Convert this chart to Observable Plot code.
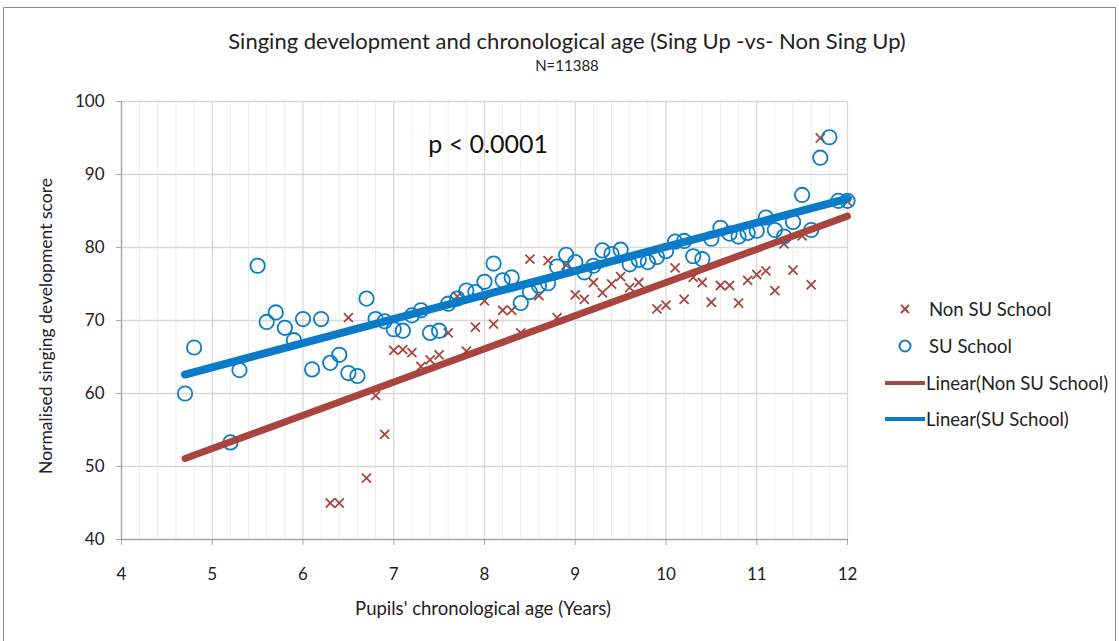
<!DOCTYPE html>
<html>
<head>
<meta charset="utf-8">
<script src="https://cdn.jsdelivr.net/npm/d3@7"></script>
<script src="https://cdn.jsdelivr.net/npm/@observablehq/plot@0.6"></script>
<style>
  html, body { margin: 0; padding: 0; background: #fff; }
  #wrap { position: relative; width: 1119px; height: 641px; overflow: hidden; font-family: Lato, "Open Sans", sans-serif; color: #222; }
  #frame { position: absolute; left: 3px; top: 7px; width: 1113px; height: 660px; border: 1px solid #8c8c8c; box-sizing: border-box; }
  .t { position: absolute; white-space: nowrap; }
  #legend .row { position: absolute; left: 880px; height: 22px; display: flex; align-items: center; font-size: 18.5px; }
</style>
</head>
<body>
<div id="wrap">
  <div id="frame"></div>
  <div id="chart" style="position:absolute;left:0;top:0;"></div>
  <div class="t" id="title" style="left:0;width:1134px;text-align:center;top:27px;font-size:22px;">Singing development and chronological age (Sing Up -vs- Non Sing Up)</div>
  <div class="t" id="sub" style="left:0;width:1134px;text-align:center;top:56px;font-size:15px;">N=11388</div>
  <div class="t" id="xlab" style="left:0;width:966px;text-align:center;top:597px;font-size:18.5px;">Pupils' chronological age (Years)</div>
  <div class="t" id="ylab" style="left:45px;top:326px;font-size:17.5px;transform:translate(-50%,-50%) rotate(-90deg);">Normalised singing development score</div>
  <div id="legend"></div>
</div>
<script>
// ---- data ----
const suAge = [4.7,4.8,5.2,5.3,5.5,5.6,5.7,5.8,5.9,6.0,6.1,6.2,6.3,6.4,6.5,6.6,6.7,6.8,6.9,7.0,7.1,7.2,7.3,7.4,7.5,7.6,7.7,7.8,7.9,8.0,8.1,8.2,8.3,8.4,8.5,8.6,8.7,8.8,8.9,9.0,9.1,9.2,9.3,9.4,9.5,9.6,9.7,9.8,9.9,10.0,10.1,10.2,10.3,10.4,10.5,10.6,10.7,10.8,10.9,11.0,11.1,11.2,11.3,11.4,11.5,11.6,11.7,11.8,11.9,12.0];
const suScore = [60.0,66.3,53.3,63.2,77.5,69.8,71.1,69.0,67.3,70.2,63.3,70.2,64.2,65.3,62.8,62.4,73.0,70.2,69.9,68.8,68.6,70.7,71.4,68.3,68.6,72.3,73.0,74.1,73.9,75.3,77.8,75.5,75.9,72.4,73.9,74.8,75.1,77.4,79.0,78.0,76.6,77.5,79.6,79.1,79.7,77.7,78.3,78.0,78.7,79.5,80.8,80.9,78.8,78.4,81.2,82.7,81.9,81.5,82.0,82.3,84.1,82.4,81.5,83.5,87.2,82.4,92.3,95.1,86.4,86.4];
const nonSuAge = [6.3,6.4,6.5,6.7,6.8,6.9,7.0,7.1,7.2,7.3,7.4,7.5,7.6,7.7,7.8,7.9,8.0,8.1,8.2,8.3,8.4,8.5,8.6,8.7,8.8,8.9,9.0,9.1,9.2,9.3,9.4,9.5,9.6,9.7,9.9,10.0,10.1,10.2,10.3,10.4,10.5,10.6,10.7,10.8,10.9,11.0,11.1,11.2,11.3,11.4,11.5,11.6,11.7,12.0];
const nonSuScore = [45.0,45.0,70.4,48.4,59.7,54.4,65.9,66.0,65.6,63.7,64.6,65.3,68.3,73.3,65.8,69.1,72.7,69.5,71.4,71.4,68.3,78.4,73.4,78.2,70.4,77.6,73.5,72.9,75.2,73.8,75.0,76.0,74.5,75.2,71.6,72.1,77.2,72.9,75.9,75.2,72.5,74.8,74.8,72.4,75.5,76.3,76.8,74.1,80.5,76.9,81.6,74.9,95.0,86.3];
const trendAge = [4.7, 12.0];
const trendNonSu = [51.1, 84.3];
const trendSu = [62.6, 86.7];
const xTicks = [4,5,6,7,8,9,10,11,12];
const yTicks = [40,50,60,70,80,90,100];
const seriesNames = ["Non SU School","SU School","Linear(Non SU School)","Linear(SU School)"];
const pLabel = "p < 0.0001";

const su = suAge.map((a,i)=>({age:a, score:suScore[i]}));
const nonSu = nonSuAge.map((a,i)=>({age:a, score:nonSuScore[i]}));
const trN = trendAge.map((a,i)=>({age:a, score:trendNonSu[i]}));
const trS = trendAge.map((a,i)=>({age:a, score:trendSu[i]}));
const minorX = d3.range(0, 41).map(i => 4 + i*0.2).filter(v => Math.abs(v - Math.round(v)) > 1e-6);

const RED = "#a9443f", BLUE = "#0b7dc6", BLUEL = "#0a7bc8";

const plot = Plot.plot({
  width: 1119, height: 641,
  marginLeft: 121, marginRight: 272, marginTop: 101, marginBottom: 102,
  style: {fontFamily: "Lato, 'Open Sans', sans-serif", fontSize: "17px", background: "transparent", color: "#222"},
  x: {domain: [4, 12]},
  y: {domain: [40, 100]},
  marks: [
    Plot.gridX(minorX, {stroke: "#ececec", strokeOpacity: 1, strokeWidth: 1}),
    Plot.gridX(xTicks, {stroke: "#d9d9d9", strokeOpacity: 1, strokeWidth: 1.3}),
    Plot.gridY(yTicks.filter(v=>v>40), {stroke: "#d9d9d9", strokeOpacity: 1, strokeWidth: 1.6}),
    Plot.ruleX([4], {stroke: "#a6a6a6", strokeWidth: 1.3}),
    Plot.ruleY([40], {stroke: "#a6a6a6", strokeWidth: 1.3}),
    Plot.axisX(xTicks, {tickSize: 6, tickPadding: 22, stroke: "#a6a6a6", fill: "#222", fontSize: 17, label: null, tickFormat: d => d}),
    Plot.axisY(yTicks, {tickSize: 5, tickPadding: 12, stroke: "#a6a6a6", fill: "#222", fontSize: 17, label: null, tickFormat: d => d}),
    Plot.dot(nonSu, {x: "age", y: "score", symbol: "times", r: 4.2, stroke: RED, strokeWidth: 1.8}),
    Plot.dot(su, {x: "age", y: "score", symbol: "circle", r: 7.2, stroke: BLUE, strokeWidth: 1.8, fill: "none"}),
    Plot.line(trN, {x: "age", y: "score", stroke: RED, strokeWidth: 7, strokeLinecap: "round"}),
    Plot.line(trS, {x: "age", y: "score", stroke: BLUEL, strokeWidth: 8, strokeLinecap: "round"}),
    Plot.text([{age: 8.04, score: 94.0}], {x: "age", y: "score", text: () => pLabel, fontSize: 25, fill: "#111"})
  ]
});
document.getElementById("chart").appendChild(plot);

// legend
const legend = document.getElementById("legend");
const rowsY = [309, 346, 383, 419];
const sw = [
  `<svg width="46" height="22"><path d="M21 7 L29 15 M29 7 L21 15" stroke="${RED}" stroke-width="1.8"/></svg>`,
  `<svg width="46" height="22"><circle cx="25" cy="11" r="5.5" fill="none" stroke="${BLUE}" stroke-width="2"/></svg>`,
  `<svg width="46" height="22"><line x1="5" y1="11" x2="45" y2="11" stroke="${RED}" stroke-width="4"/></svg>`,
  `<svg width="46" height="22"><line x1="5" y1="11" x2="45" y2="11" stroke="${BLUEL}" stroke-width="4"/></svg>`
];
seriesNames.forEach((n, i) => {
  const d = document.createElement("div");
  d.className = "row";
  d.style.top = (rowsY[i] - 11) + "px";
  d.innerHTML = sw[i] + `<span style="margin-left:${i < 2 ? 3 : 0}px">${n}</span>`;
  legend.appendChild(d);
});
</script>
</body>
</html>
